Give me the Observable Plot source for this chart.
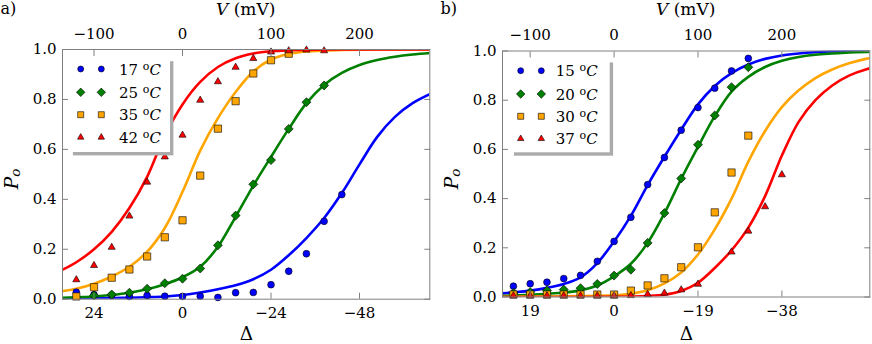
<!DOCTYPE html>
<html><head><meta charset="utf-8">
<script src="https://cdn.jsdelivr.net/npm/d3@7"></script>
<script src="https://cdn.jsdelivr.net/npm/@observablehq/plot@0.6"></script>
<style>
body{margin:0;background:#fff;}
#fig{position:relative;width:872px;height:344px;overflow:hidden;background:#fff;}
#fig > svg{position:absolute;top:0;}
</style></head><body><div id="fig"></div>
<script>
// ---------- Panel a data (V in mV, Po) ----------
const voltsA17 = [-120,-100,-80,-60,-40,-20,0,20,40,60,80,100,120,140,160,180];
const poA17    = [0.028,0.018,0.016,0.011,0.015,0.012,0.011,0.012,0.007,0.026,0.027,0.058,0.112,0.182,0.312,0.419];
const voltsA25 = [-100,-80,-60,-40,-20,0,20,40,60,80,100,120,140,160];
const poA25    = [0.015,0.019,0.026,0.042,0.064,0.082,0.123,0.216,0.335,0.46,0.557,0.682,0.789,0.856];
const voltsA35 = [-120,-100,-80,-60,-40,-20,0,20,40,60,80,100,120];
const poA35    = [0.011,0.048,0.086,0.119,0.171,0.248,0.316,0.495,0.683,0.793,0.904,0.957,0.983];
const voltsA42 = [-120,-100,-80,-60,-40,-20,0,20,40,60,80,100,120,140,160];
const poA42    = [0.078,0.135,0.208,0.333,0.469,0.57,0.657,0.797,0.871,0.929,0.964,0.99,0.995,0.998,0.995];

// fitted curves on a voltage grid
const gridA   = [-140,-120,-100,-80,-60,-40,-20,0,20,40,60,80,100,120,140,160,180,200,220,240,260,280];
const fitA17  = [0.003,0.003,0.004,0.005,0.006,0.008,0.011,0.017,0.027,0.04,0.056,0.08,0.118,0.176,0.245,0.325,0.425,0.54,0.65,0.73,0.785,0.822];
const fitA25  = [0.005,0.008,0.011,0.017,0.026,0.04,0.06,0.088,0.13,0.21,0.33,0.455,0.57,0.682,0.785,0.858,0.906,0.938,0.958,0.971,0.98,0.986];
const fitA35  = [0.03,0.042,0.062,0.091,0.13,0.19,0.285,0.43,0.595,0.725,0.83,0.912,0.96,0.982,0.992,0.996,0.998,0.999,1,1,1,1];
const fitA42  = [0.11,0.148,0.2,0.27,0.365,0.49,0.655,0.78,0.87,0.93,0.965,0.984,0.993,0.997,0.999,1,1,1,1,1,1,1];

// ---------- Panel b data ----------
const voltsB15 = [-120,-100,-80,-60,-40,-20,0,20,40,60,80,100,120,140,160];
const poB15    = [0.044,0.054,0.06,0.075,0.088,0.145,0.226,0.324,0.457,0.567,0.678,0.77,0.849,0.919,0.97];
const voltsB20 = [-120,-100,-80,-60,-40,-20,0,20,40,60,80,100,120,140,160];
const poB20    = [0.016,0.02,0.026,0.03,0.036,0.053,0.087,0.111,0.22,0.341,0.482,0.619,0.738,0.853,0.934];
const voltsB30 = [-120,-100,-80,-60,-40,-20,0,20,40,60,80,100,120,140,160];
const poB30    = [0.01,0.01,0.01,0.01,0.01,0.01,0.01,0.026,0.047,0.076,0.121,0.202,0.344,0.506,0.656];
const voltsB37 = [-120,-100,-80,-60,-40,-20,0,20,40,60,80,100,140,160,180,200];
const poB37    = [0.005,0.005,0.005,0.005,0.005,0.005,0.005,0.006,0.011,0.016,0.029,0.052,0.183,0.268,0.367,0.497];

const gridB   = [-140,-120,-100,-80,-60,-40,-20,0,20,40,60,80,100,120,140,160,180,200,220,240,260,280,300,320];
const fitB15  = [0.013,0.019,0.026,0.037,0.053,0.08,0.138,0.226,0.33,0.455,0.57,0.68,0.783,0.858,0.91,0.945,0.968,0.982,0.99,0.995,0.998,0.999,1,1];
const fitB20  = [0.004,0.006,0.009,0.013,0.018,0.027,0.047,0.084,0.135,0.22,0.34,0.48,0.61,0.735,0.835,0.895,0.935,0.96,0.976,0.985,0.99,0.994,0.996,0.997];
const fitB30  = [0.001,0.001,0.002,0.002,0.003,0.004,0.005,0.007,0.013,0.027,0.055,0.1,0.173,0.275,0.4,0.55,0.675,0.772,0.84,0.89,0.925,0.95,0.968,0.978];
const fitB37  = [0,0,0,0,0,0,0.0005,0.001,0.002,0.004,0.009,0.024,0.058,0.118,0.19,0.282,0.41,0.575,0.712,0.8,0.86,0.9,0.925,0.94];

// ---------- axes ----------
const vTicks      = [-100, 0, 100, 200];
const deltaTicksA = [24, 0, -24, -48];
const deltaTicksB = [19, 0, -19, -38];
const deltaPerMvA = 0.24;
const deltaPerMvB = 0.19;
const poTicks     = [0, 0.2, 0.4, 0.6, 0.8, 1.0];
const tempsA = ["17", "25", "35", "42"];
const tempsB = ["15", "20", "30", "37"];

const colors  = ["#0000ff", "#008000", "#ffa500", "#ff0000"];
const symbols = ["circle", "diamond2", "square", "triangle"];
const radii   = [3.4, 4.05, 4.1, 2.65];

const fmtMinus = d => (d < 0 ? "\u2212" + Math.abs(d) : String(d));
const pts = (vs, ps) => vs.map((v, i) => ({V: v, P: ps[i]}));

function panel(cfg) {
  const marks = [];
  cfg.fits.forEach((f, i) => marks.push(Plot.line(pts(cfg.grid, f), {x: "V", y: "P", stroke: colors[i], strokeWidth: 2.6, curve: "catmull-rom", clip: true})));
  cfg.points.forEach(([vs, ps], i) => marks.push(Plot.dot(pts(vs, ps), {x: "V", y: "P", symbol: () => symbols[i], fill: colors[i], stroke: "black", strokeWidth: 0.6, r: radii[i]})));
  const f = cfg.factor;
  marks.push(
    Plot.frame({stroke: "#808080"}),
    Plot.axisX(vTicks, {anchor: "top", tickSize: -6, tickPadding: 17, tickFormat: fmtMinus, stroke: "#808080", fill: "black", label: null}),
    Plot.axisX(cfg.dTicks.map(d => -d / f), {anchor: "bottom", tickSize: -6, tickPadding: 14, tickFormat: v => fmtMinus(Math.round(-v * f)), stroke: "#808080", fill: "black", label: null}),
    Plot.axisY(poTicks, {anchor: "left", tickSize: -6, tickPadding: 12, tickFormat: d3.format(".1f"), stroke: "#808080", fill: "black", label: null}),
    Plot.axisY(poTicks, {anchor: "right", tickSize: -6, tickFormat: () => "", stroke: "#808080", label: null})
  );
  const svg = Plot.plot({
    width: 436, height: 344,
    marginLeft: cfg.ml, marginRight: cfg.mr, marginTop: cfg.mt, marginBottom: cfg.mb,
    x: {domain: cfg.xDomain},
    y: {domain: [0, 1]},
    symbol: {type: "identity"},
    style: {fontFamily: "DejaVu Serif", fontSize: "15px", color: "black", background: "transparent", overflow: "visible"},
    marks
  });
  svg.style.left = cfg.left + "px";
  document.getElementById("fig").appendChild(svg);
}

panel({left: 0, ml: 62, mr: 6.7, mt: 49, mb: 45.3, xDomain: [-135.6, 279.4], factor: deltaPerMvA, dTicks: deltaTicksA,
  grid: gridA, fits: [fitA17, fitA25, fitA35, fitA42],
  points: [[voltsA17, poA17], [voltsA25, poA25], [voltsA35, poA35], [voltsA42, poA42]]});
panel({left: 436, ml: 66, mr: 2.7, mt: 50.5, mb: 47.5, xDomain: [-133, 304.8], factor: deltaPerMvB, dTicks: deltaTicksB,
  grid: gridB, fits: [fitB15, fitB20, fitB30, fitB37],
  points: [[voltsB15, poB15], [voltsB20, poB20], [voltsB30, poB30], [voltsB37, poB37]]});

// ---------- overlay: labels and legends ----------
const ov = d3.select("#fig").append("svg").attr("width", 872).attr("height", 344)
  .style("position", "absolute").style("left", "0px").style("top", "0px")
  .style("font-family", "DejaVu Serif");

function labels(x0, cx, tag) {
  ov.append("text").attr("x", x0 + 0.5).attr("y", 14).attr("font-size", 16).text(tag);
  const t = ov.append("text").attr("x", cx).attr("y", 15).attr("font-size", 17).attr("text-anchor", "middle");
  t.append("tspan").attr("font-style", "italic").text("V");
  t.append("tspan").text(" (mV)");
  ov.append("text").attr("x", cx + 0.8).attr("y", 339.5).attr("font-size", 18.5).attr("text-anchor", "middle").text("\u0394");
  const p = ov.append("text").attr("transform", `translate(${x0 + 18},179) rotate(-90)`).attr("text-anchor", "middle").attr("font-style", "italic");
  p.append("tspan").attr("font-size", 18.5).text("P");
  p.append("tspan").attr("font-size", 13.5).attr("dy", 2).text("o");
}
labels(0, 245.7, "a)");
labels(440, 685.7, "b)");

const legSizes = [28, 46, 36, 18];
function legend(box, mx, rows, tx, temps) {
  ov.append("rect").attr("x", box[0] + 3.4).attr("y", box[1] + 3.4).attr("width", box[2]).attr("height", box[3]).attr("fill", "#ababab");
  ov.append("rect").attr("x", box[0]).attr("y", box[1]).attr("width", box[2]).attr("height", box[3]).attr("fill", "white");
  temps.forEach((t, i) => {
    mx.forEach(x => {
      ov.append("path").attr("d", d3.symbol(d3["symbol" + ["Circle", "Diamond2", "Square", "Triangle"][i]], legSizes[i])())
        .attr("transform", `translate(${x},${rows[i]})`).attr("fill", colors[i]).attr("stroke", "black").attr("stroke-width", 0.6);
    });
    const tt = ov.append("text").attr("x", tx).attr("y", rows[i] + 5.5).attr("font-size", 15);
    tt.append("tspan").text(t + " ");
    tt.append("tspan").attr("font-size", 11).attr("dy", -5).text("o");
    tt.append("tspan").attr("font-style", "italic").attr("dy", 5).text("C");
  });
}
legend([69.5, 57.8, 100.5, 94.2], [80.7, 101.3], [69, 92.3, 114.7, 137.3], 119, tempsA);
legend([510.5, 59, 99.2, 93.3], [520.7, 541.3], [70.7, 94, 116.3, 138.7], 555.7, tempsB);
</script></body></html>
